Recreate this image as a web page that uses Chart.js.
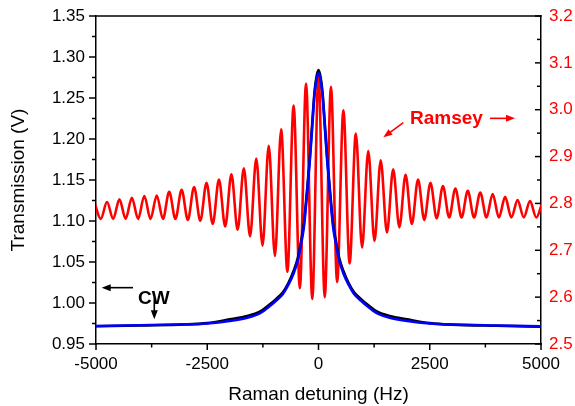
<!DOCTYPE html>
<html>
<head>
<meta charset="utf-8">
<script src="https://cdn.jsdelivr.net/npm/chart.js@4.4.0/dist/chart.umd.min.js"></script>
<style>
  html, body { margin: 0; padding: 0; background: #fff; }
  #wrap { width: 575px; height: 406px; }
</style>
</head>
<body>
<div id="wrap"><canvas id="chart" width="575" height="406"></canvas></div>
<script>
// Ramsey fringes: detuning (Hz) of each peak / dip
const ramseyDetuning = [
  -5033, -4893, -4753, -4613, -4474, -4334, -4194, -4054, -3914, -3775, -3635, -3495,
  -3355, -3215, -3076, -2936, -2796, -2656, -2516, -2377, -2237, -2097, -1957, -1817,
  -1678, -1538, -1398, -1258, -1118, -979, -839, -699, -559, -419, -280, -140,
  0,
  140, 280, 419, 559, 699, 839, 979, 1118, 1258, 1398, 1538, 1678,
  1817, 1957, 2097, 2237, 2377, 2516, 2656, 2796, 2936, 3076, 3215, 3355,
  3495, 3635, 3775, 3914, 4054, 4194, 4334, 4474, 4613, 4753, 4893, 5033
];
// Ramsey signal (V, right axis)
const ramseySignal = [
  2.801, 2.767, 2.803, 2.767, 2.809, 2.767, 2.812, 2.767, 2.816, 2.767, 2.817, 2.767,
  2.825, 2.767, 2.829, 2.765, 2.835, 2.763, 2.844, 2.756, 2.851, 2.751, 2.862, 2.744,
  2.875, 2.730, 2.896, 2.710, 2.923, 2.688, 2.958, 2.654, 3.009, 2.619, 3.056, 2.596,
  3.076,
  2.600, 3.049, 2.632, 2.999, 2.672, 2.949, 2.706, 2.912, 2.720, 2.892, 2.738, 2.873,
  2.749, 2.861, 2.756, 2.851, 2.765, 2.844, 2.768, 2.837, 2.770, 2.832, 2.770, 2.827,
  2.770, 2.823, 2.770, 2.820, 2.770, 2.814, 2.770, 2.807, 2.770, 2.805, 2.770, 2.803
];

// CW line (left axis)
const cwDetuning = [
  -5000, -4000, -3000, -2500, -2000, -1600, -1300, -1100, -950, -800, -680, -560,
  -460, -400, -330, -260, -200, -140, -90, -45, 0, 45, 90, 140, 200, 260, 330,
  400, 460, 560, 680, 800, 950, 1100, 1300, 1600, 2000, 2500, 3000, 4000, 5000
];
const cwMeasured = [
  0.9716, 0.9726, 0.9738, 0.9755, 0.980, 0.984, 0.990, 0.998, 1.005, 1.013, 1.024, 1.039,
  1.056, 1.073, 1.096, 1.136, 1.174, 1.220, 1.257, 1.276, 1.284, 1.276, 1.257, 1.220, 1.174, 1.136, 1.096,
  1.073, 1.056, 1.039, 1.024, 1.013, 1.005, 0.998, 0.990, 0.984, 0.980, 0.9755, 0.9736, 0.9722, 0.9712
];
const cwFit = [
  0.9720, 0.9729, 0.9740, 0.9750, 0.978, 0.982, 0.988, 0.996, 1.003, 1.011, 1.022, 1.036,
  1.053, 1.070, 1.092, 1.132, 1.170, 1.216, 1.254, 1.273, 1.280, 1.273, 1.254, 1.216, 1.170, 1.132, 1.092,
  1.070, 1.053, 1.036, 1.022, 1.011, 1.003, 0.996, 0.988, 0.982, 0.978, 0.9750, 0.9738, 0.9726, 0.9716
];

// axis ticks
const xMajor = [-5000, -2500, 0, 2500, 5000];
const xMinor = [-3750, -1250, 1250, 3750];
const leftMajor = [0.95, 1.00, 1.05, 1.10, 1.15, 1.20, 1.25, 1.30, 1.35];
const leftMinor = [0.975, 1.025, 1.075, 1.125, 1.175, 1.225, 1.275, 1.325];
const rightMajor = [2.5, 2.6, 2.7, 2.8, 2.9, 3.0, 3.1, 3.2];
const rightMinor = [2.55, 2.65, 2.75, 2.85, 2.95, 3.05, 3.15];

const FONT = "'Liberation Sans', Arial, sans-serif";
const RED = '#ff0000';

function toPoints(xs, ys) {
  return xs.map((x, i) => ({ x: x, y: ys[i] }));
}

// fixed box sizes so the plot area lands where the original has it
function fixBox(size, isWidth) {
  return s => {
    if (isWidth) s.width = size; else s.height = size;
    s.paddingTop = 0; s.paddingBottom = 0;
    s.paddingLeft = 0; s.paddingRight = 0;
  };
}

function arrow(ctx, x1, y1, x2, y2, color) {
  const ang = Math.atan2(y2 - y1, x2 - x1);
  const len = 9, half = 3.5;
  ctx.strokeStyle = color;
  ctx.fillStyle = color;
  ctx.lineWidth = 1.6;
  ctx.beginPath();
  ctx.moveTo(x1, y1);
  ctx.lineTo(x2 - Math.cos(ang) * (len - 1), y2 - Math.sin(ang) * (len - 1));
  ctx.stroke();
  ctx.beginPath();
  ctx.moveTo(x2, y2);
  ctx.lineTo(x2 - Math.cos(ang) * len - Math.sin(ang) * half, y2 - Math.sin(ang) * len + Math.cos(ang) * half);
  ctx.lineTo(x2 - Math.cos(ang) * len + Math.sin(ang) * half, y2 - Math.sin(ang) * len - Math.cos(ang) * half);
  ctx.closePath();
  ctx.fill();
}

// frame, inward/outward ticks and the two labels with arrows
const decorations = {
  id: 'decorations',
  afterDraw(chart) {
    const { ctx, chartArea: a, scales } = chart;
    const sx = scales.x, sy = scales.y, sr = scales.y2;
    ctx.save();
    ctx.strokeStyle = '#000';
    ctx.lineWidth = 1.5;
    const seg = (x1, y1, x2, y2) => {
      ctx.beginPath(); ctx.moveTo(x1, y1); ctx.lineTo(x2, y2); ctx.stroke();
    };
    seg(a.left - 0.75, a.top, a.right + 0.75, a.top);

    xMajor.forEach(v => { const p = sx.getPixelForValue(v); seg(p, a.bottom, p, a.bottom + 6); });
    xMinor.forEach(v => { const p = sx.getPixelForValue(v); seg(p, a.bottom, p, a.bottom + 3.5); });
    leftMajor.forEach(v => { const p = sy.getPixelForValue(v); seg(a.left, p, a.left - 7, p); });
    leftMinor.forEach(v => { const p = sy.getPixelForValue(v); seg(a.left, p, a.left - 4, p); });
    rightMajor.forEach(v => { const p = sr.getPixelForValue(v); seg(a.right, p, a.right - 6, p); });
    rightMinor.forEach(v => { const p = sr.getPixelForValue(v); seg(a.right, p, a.right - 4, p); });

    // Ramsey label
    ctx.font = 'bold 19px ' + FONT;
    ctx.textBaseline = 'alphabetic';
    ctx.textAlign = 'left';
    ctx.fillStyle = RED;
    ctx.fillText('Ramsey', sx.getPixelForValue(2056), sy.getPixelForValue(1.2183));
    arrow(ctx, sx.getPixelForValue(3854), sy.getPixelForValue(1.2252),
      sx.getPixelForValue(4416), sy.getPixelForValue(1.2252), RED);
    arrow(ctx, sx.getPixelForValue(1906), sy.getPixelForValue(1.2199),
      sx.getPixelForValue(1456), sy.getPixelForValue(1.2021), RED);

    // CW label
    ctx.fillStyle = '#000';
    ctx.fillText('CW', sx.getPixelForValue(-4056), sy.getPixelForValue(0.9988));
    arrow(ctx, sx.getPixelForValue(-4169), sy.getPixelForValue(1.0187),
      sx.getPixelForValue(-4872), sy.getPixelForValue(1.0187), '#000');
    arrow(ctx, sx.getPixelForValue(-3690), sy.getPixelForValue(1.0057),
      sx.getPixelForValue(-3690), sy.getPixelForValue(0.9801), '#000');
    ctx.restore();
  }
};

new Chart(document.getElementById('chart'), {
  type: 'line',
  data: {
    datasets: [
      {
        label: 'CW fit',
        data: toPoints(cwDetuning, cwFit),
        yAxisID: 'y',
        borderColor: '#0000ff',
        borderWidth: 2.6,
        pointRadius: 0,
        cubicInterpolationMode: 'monotone',
        fill: false
      },
      {
        label: 'CW',
        data: toPoints(cwDetuning, cwMeasured),
        yAxisID: 'y',
        borderColor: '#000000',
        borderWidth: 2.6,
        pointRadius: 0,
        cubicInterpolationMode: 'monotone',
        fill: false
      },
      {
        label: 'Ramsey',
        data: toPoints(ramseyDetuning, ramseySignal),
        yAxisID: 'y2',
        borderColor: RED,
        borderWidth: 2.6,
        pointRadius: 0,
        cubicInterpolationMode: 'monotone',
        fill: false,
        clip: 0
      }
    ]
  },
  options: {
    responsive: false,
    animation: false,
    devicePixelRatio: 1,
    layout: { padding: { top: 16, left: 0, right: 0, bottom: 0 } },
    plugins: { legend: { display: false }, tooltip: { enabled: false } },
    scales: {
      x: {
        type: 'linear',
        position: 'bottom',
        min: -5000,
        max: 5000,
        afterBuildTicks: s => { s.ticks = xMajor.map(v => ({ value: v })); },
        afterFit: fixBox(62, false),
        grid: { display: false, drawTicks: false },
        border: { display: true, color: '#000', width: 1.5 },
        ticks: {
          padding: 10,
          color: '#000',
          font: { family: FONT, size: 17 },
          maxRotation: 0,
          callback: v => String(v)
        },
        title: {
          display: true,
          text: 'Raman detuning (Hz)',
          color: '#000',
          font: { family: FONT, size: 19 },
          padding: { top: 1, bottom: 0 }
        }
      },
      y: {
        type: 'linear',
        position: 'left',
        min: 0.95,
        max: 1.35,
        afterBuildTicks: s => { s.ticks = leftMajor.map(v => ({ value: v })); },
        afterFit: fixBox(96, true),
        grid: { display: false, drawTicks: false },
        border: { display: true, color: '#000', width: 1.5 },
        ticks: {
          padding: 11,
          color: '#000',
          font: { family: FONT, size: 17 },
          callback: v => v.toFixed(2)
        },
        title: {
          display: true,
          text: 'Transmission (V)',
          color: '#000',
          font: { family: FONT, size: 19 },
          padding: { top: 7, bottom: 0 }
        }
      },
      y2: {
        type: 'linear',
        position: 'right',
        min: 2.5,
        max: 3.2,
        afterBuildTicks: s => { s.ticks = rightMajor.map(v => ({ value: v })); },
        afterFit: fixBox(34, true),
        grid: { display: false, drawTicks: false },
        border: { display: true, color: '#000', width: 1.5 },
        ticks: {
          padding: 8,
          color: RED,
          font: { family: FONT, size: 17 },
          callback: v => v.toFixed(1)
        }
      }
    }
  },
  plugins: [decorations]
});
</script>
</body>
</html>
